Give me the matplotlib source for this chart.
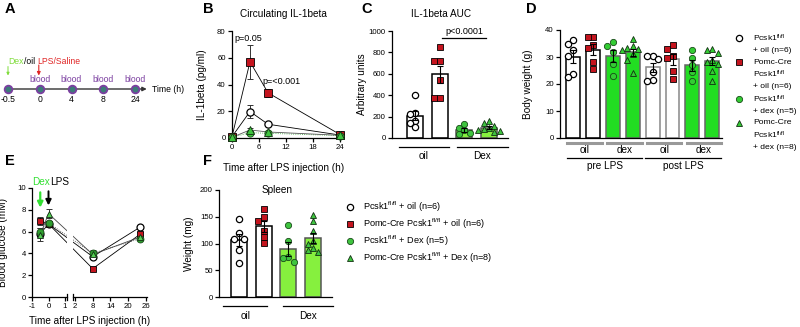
import numpy as np
import matplotlib
matplotlib.use("Agg")
import matplotlib.pyplot as plt
from matplotlib.lines import Line2D

plt.rcParams['font.family'] = ['Liberation Sans', 'DejaVu Sans']
plt.rcParams['mathtext.fontset'] = 'custom'
plt.rcParams['mathtext.rm'] = 'Liberation Sans'
plt.rcParams['mathtext.it'] = 'Liberation Sans:italic'

# --- data ---

# A: timeline
a_times = ["-0.5", "0", "4", "8", "24"]
a_blood = [False, True, True, True, True]

# B: circulating IL-1beta (pg/ml), mean and SEM
b_hours = [0, 4, 8, 24]
b_g1_mean = [1.0, 19.8, 10.3, 2.2]
b_g1_sem = [0.4, 4.5, 1.2, 0.5]
b_g2_mean = [1.0, 57.0, 33.8, 2.6]
b_g2_sem = [0.4, 12.7, 2.8, 0.6]
b_g3_mean = [0.5, 4.0, 3.5, 1.8]
b_g3_sem = [0.3, 1.0, 0.8, 0.4]
b_g4_mean = [0.5, 6.0, 4.5, 2.0]
b_g4_sem = [0.3, 1.5, 1.0, 0.4]

# C: IL-1beta AUC
c_g1 = [400, 230, 225, 160, 140, 100]
c_g2 = [855, 720, 715, 540, 370, 370]
c_g3 = [130, 90, 75, 45, 35]
c_g4 = [155, 140, 110, 95, 85, 75, 65, 55]

# D: body weight (g), pre and post LPS
d_g1_pre = [36.4, 34.8, 32.5, 30.5, 23.8, 22.6]
d_g2_pre = [37.3, 37.3, 34.5, 33.5, 28.0, 25.5]
d_g3_pre = [35.5, 34.0, 32.0, 27.5, 22.8]
d_g4_pre = [36.5, 34.0, 33.5, 33.0, 32.5, 31.0, 29.0, 24.0]
d_g1_post = [30.4, 30.2, 29.3, 24.5, 21.5, 21.1]
d_g2_post = [34.5, 33.0, 30.5, 29.5, 25.0, 22.0]
d_g3_post = [32.5, 29.5, 27.0, 24.5, 21.0]
d_g4_post = [33.0, 32.5, 31.5, 29.0, 28.0, 27.5, 25.0, 21.0]

# E: blood glucose (mM), mean and SEM
e_hours = [-0.5, 0, 8, 24]
e_g1_mean = [5.8, 6.7, 3.7, 6.4]
e_g1_sem = [0.3, 0.2, 0.2, 0.15]
e_g2_mean = [7.0, 6.7, 2.6, 5.75]
e_g2_sem = [0.35, 0.2, 0.15, 0.2]
e_g3_mean = [6.0, 6.8, 4.0, 5.35]
e_g3_sem = [0.3, 0.2, 0.3, 0.15]
e_g4_mean = [5.7, 7.65, 3.9, 5.5]
e_g4_sem = [0.6, 0.4, 0.3, 0.2]

# F: spleen weight (mg)
f_g1 = [146, 119, 109, 109, 88, 64]
f_g2 = [164, 150, 142, 123, 112, 101]
f_g3 = [134, 104, 74, 72, 66]
f_g4 = [154, 142, 124, 105, 99, 92, 87, 84]

FL = r"$^{\mathrm{fl/fl}}$"
legend_d = [["Pcsk1" + FL, "+ oil (n=6)"],
            ["Pomc-Cre", "Pcsk1" + FL, "+ oil (n=6)"],
            ["Pcsk1" + FL, "+ dex (n=5)"],
            ["Pomc-Cre", "Pcsk1" + FL, "+ dex (n=8)"]]
legend_f = ["Pcsk1" + FL + " + oil (n=6)",
            "Pomc-Cre Pcsk1" + FL + " + oil (n=6)",
            "Pcsk1" + FL + " + Dex (n=5)",
            "Pomc-Cre Pcsk1" + FL + " + Dex (n=8)"]

# --- styles ---
RED = '#C4141E'
GREEN_D = '#22DD22'
GREEN_L = '#86F03E'
GREEN_MK = '#3FC43F'
ST1 = dict(marker='o', mfc='white', mec='black', mew=0.9, ms=4.5, ls='none')
ST2 = dict(marker='s', mfc=RED, mec='black', mew=0.6, ms=4.3, ls='none')
ST3 = dict(marker='o', mfc=GREEN_MK, mec='#184a18', mew=0.6, ms=4.5, ls='none')
ST4 = dict(marker='^', mfc=GREEN_MK, mec='#123012', mew=0.6, ms=4.8, ls='none')
LAB = 7.2
TCK = 5.6
W, H = 800, 327

fig = plt.figure(figsize=(8, 3.27), dpi=100)


def px_axes(x0, y0, x1, y1):
    return fig.add_axes([x0 / W, 1 - y1 / H, (x1 - x0) / W, (y1 - y0) / H])


def style(ax):
    for s in ['top', 'right']:
        ax.spines[s].set_visible(False)
    for s in ['left', 'bottom']:
        ax.spines[s].set_linewidth(0.9)
    ax.tick_params(length=3, width=0.9, labelsize=TCK, pad=1.5)


def swarm(vals, ytol, step):
    vals = np.asarray(vals, float)
    offs = np.zeros(len(vals))
    done = []
    for i in np.argsort(-vals):
        for k in (0, -1, 1, -2, 2, -3, 3):
            o = k * step
            if all(abs(o - oo) > step * 0.9 or abs(vals[i] - vv) > ytol for oo, vv in done):
                break
        offs[i] = o
        done.append((o, vals[i]))
    return offs


def bars(ax, groups, styles, fcs, ecs, width, step, ytol):
    for i, (vals, st, fc, ec) in enumerate(zip(groups, styles, fcs, ecs)):
        vals = np.asarray(vals, float)
        m = vals.mean()
        se = vals.std(ddof=1) / np.sqrt(len(vals))
        ax.bar(i, m, width, color=fc, edgecolor=ec, lw=1.1, zorder=1)
        ax.plot(i + swarm(vals, ytol, step), vals, zorder=3, clip_on=False, **st)
        ax.errorbar(i, m, yerr=se, color='black', capsize=2.3, lw=0.8,
                    capthick=0.8, zorder=4)
    ax.set_xticks([])


def group_line(ax, x0, x1, ypx, label, lypx, color='black', lw=0.9):
    h = ax.get_position().height * H
    tr = ax.get_xaxis_transform()
    ax.plot([x0, x1], [-ypx / h] * 2, color=color, lw=lw, transform=tr, clip_on=False)
    ax.text((x0 + x1) / 2, -lypx / h, label, transform=tr, ha='center', va='center',
            fontsize=LAB)


def letter(x, y, s):
    fig.text(x / W, 1 - y / H, s, fontsize=10.5, fontweight='bold', ha='left', va='center')


# --- A ---
axA = px_axes(0, 59, 200, 119)
axA.axis('off')
u = 31.75
axA.set_xlim(-8 / u, 192 / u)
axA.set_ylim(-1, 1)
pos = np.arange(len(a_times))
axA.annotate('', xy=(4.37, 0), xytext=(0, 0),
             arrowprops=dict(arrowstyle='-|>', color='#333333', lw=1.0, mutation_scale=6,
                             shrinkA=0, shrinkB=0))
axA.plot(pos, np.zeros(len(pos)), 'o', mfc='#3d7c79', mec='#7b3fa0', mew=1.3, ms=5.5,
         clip_on=False, zorder=3)
for p, t, b in zip(pos, a_times, a_blood):
    axA.text(p, -0.36, t, ha='center', va='center', fontsize=6.2)
    if b:
        axA.text(p, 0.3, 'blood', ha='center', va='center', fontsize=6.2, color='#7b3fa0')
axA.text(4.52, 0, 'Time (h)', ha='left', va='center', fontsize=6.2)
t_dex = axA.text(0, 0.93, 'Dex', ha='left', va='center', fontsize=6.2, color='#7fdc3a')
axA.annotate('/oil', xy=(1, 0.5), xycoords=t_dex, va='center', ha='left', fontsize=6.2)
axA.text(0.93, 0.93, 'LPS/Saline', ha='left', va='center', fontsize=6.2, color='#e02424')
axA.annotate('', xy=(0, 0.45), xytext=(0, 0.75),
             arrowprops=dict(arrowstyle='-|>', color='#7fdc3a', lw=0.7, mutation_scale=4,
                             shrinkA=0, shrinkB=0))
axA.annotate('', xy=(0.97, 0.45), xytext=(0.97, 0.8),
             arrowprops=dict(arrowstyle='-|>', color='#e02424', lw=0.8, mutation_scale=5,
                             shrinkA=0, shrinkB=0))
letter(5, 9, 'A')

# --- B ---
axB = px_axes(232, 31, 342.25, 138)
style(axB)
axB.set_xlim(0, 24.5)
axB.set_ylim(0, 80)
axB.set_xticks([0, 6, 12, 18, 24])
axB.set_yticks([0, 20, 40, 60, 80])
for mean, sem, st, lc, ls in [(b_g1_mean, b_g1_sem, ST1, 'black', '-'),
                              (b_g2_mean, b_g2_sem, ST2, 'black', '-'),
                              (b_g3_mean, b_g3_sem, ST3, '#33aa33', ':'),
                              (b_g4_mean, b_g4_sem, ST4, '#555555', '-')]:
    axB.plot(b_hours, mean, color=lc, ls=ls, lw=0.6, zorder=2, clip_on=False)
    axB.errorbar(b_hours, mean, yerr=sem, fmt='none', ecolor='#333333', elinewidth=0.7,
                 capsize=2.2, capthick=0.7, zorder=2, clip_on=False)
    axB.plot(b_hours, mean, zorder=3, clip_on=False, **dict(st, ms=5.2))
axB.text(3.6, 74.5, 'p=0.05', ha='center', va='center', fontsize=6.5)
axB.text(11.0, 42, 'p=<0.001', ha='center', va='center', fontsize=6.5)
axB.text(0.47, 1.16, 'Circulating IL-1beta', transform=axB.transAxes, ha='center',
         va='center', fontsize=LAB)
axB.set_ylabel('IL-1beta (pg/ml)', fontsize=LAB)
axB.yaxis.set_label_coords(-0.225, 0.5)
axB.set_xlabel('Time after LPS injection (h)', fontsize=LAB)
axB.xaxis.set_label_coords(0.47, -0.235)
letter(203, 9, 'B')

# --- C ---
uc = 24.67
axC = px_axes(392, 31, 508, 138)
style(axC)
axC.set_xlim(-23 / uc, 93 / uc)
axC.set_ylim(0, 1000)
axC.set_yticks([0, 200, 400, 600, 800, 1000])
bars(axC, [c_g1, c_g2, c_g3, c_g4], [ST1, ST2, ST3, ST4],
     ['white', 'white', GREEN_L, GREEN_L], ['black', 'black', '#555555', '#555555'],
     0.66, 0.22, 51)
group_line(axC, -0.65, 1.38, 9, 'oil', 18)
group_line(axC, 1.7, 3.77, 9, 'Dex', 18)
axC.plot([1.09, 2.88], [935, 935], color='black', lw=0.9, clip_on=False)
axC.text(1.99, 955, 'p<0.0001', ha='center', va='bottom', fontsize=6.5)
axC.text(0.42, 1.16, 'IL-1beta AUC', transform=axC.transAxes, ha='center',
         va='center', fontsize=LAB)
axC.set_ylabel('Arbitrary units', fontsize=LAB)
axC.yaxis.set_label_coords(-0.215, 0.5)
letter(361, 9, 'C')

# --- D ---
ud = 19.9
axD = px_axes(560, 30, 722, 138)
style(axD)
axD.set_xlim(-13 / ud, 149 / ud)
axD.set_ylim(0, 40)
axD.set_yticks([0, 10, 20, 30, 40])
GD3 = dict(ST3, mfc='#33cc33')
GD4 = dict(ST4, mfc='#33cc33')
bars(axD, [d_g1_pre, d_g2_pre, d_g3_pre, d_g4_pre, d_g1_post, d_g2_post, d_g3_post, d_g4_post],
     [ST1, ST2, GD3, GD4, ST1, ST2, GD3, GD4],
     ['white', 'white', GREEN_D, GREEN_D, 'white', 'white', GREEN_D, GREEN_D],
     ['black', 'black', '#666666', '#666666', '#888888', '#888888', '#666666', '#666666'],
     0.7, 0.27, 2.0)
for x0, lab in [(0, 'oil'), (2, 'dex'), (4, 'oil'), (6, 'dex')]:
    group_line(axD, x0 - 0.28, x0 + 1.45, 4.5, lab, 12, color='#999999', lw=2.2)
group_line(axD, -0.28, 3.45, 20, 'pre LPS', 28)
group_line(axD, 3.6, 7.45, 20, 'post LPS', 28)
axD.set_ylabel('Body weight (g)', fontsize=LAB)
axD.yaxis.set_label_coords(-0.165, 0.5)
letter(526, 9, 'D')

# D legend
leg_rows_d = [38, 62, 99, 123]
for y0, st, lines in zip(leg_rows_d, [ST1, ST2, GD3, GD4], legend_d):
    fig.add_artist(Line2D([739 / W], [1 - y0 / H], transform=fig.transFigure, **st))
    for k, line in enumerate(lines):
        fig.text(753 / W, 1 - (y0 + 12.3 * k) / H, line, ha='left', va='center', fontsize=6.1)

# --- E ---
GAP = 0.606
SLOPE = 0.179


def fwd(x):
    x = np.asarray(x, float)
    return np.where(x <= 1, x, np.where(x <= 2, 1 + (x - 1) * GAP, 1 + GAP + (x - 2) * SLOPE))


def inv(y):
    y = np.asarray(y, float)
    return np.where(y <= 1, y, np.where(y <= 1 + GAP, 1 + (y - 1) / GAP,
                                        2 + (y - 1 - GAP) / SLOPE))


ue = 16.5
e_right = 26.3
e_w = (float(fwd(e_right)) + 1) * ue
axE = px_axes(32, 188, 32 + e_w, 297)
style(axE)
axE.set_xscale('function', functions=(fwd, inv))
axE.set_xlim(-1, e_right)
axE.set_ylim(0, 10)
axE.set_yticks([0, 2, 4, 6, 8, 10])
axE.set_xticks([-1, 0, 1, 2, 8, 14, 20, 26])
axE.set_xticklabels(['-1', '0', '1', '2', '8', '14', '20', '26'])
axE.minorticks_off()
axE.spines['bottom'].set_visible(False)
tr = axE.get_xaxis_transform()
axE.plot([-1, 1.2], [0, 0], color='black', lw=0.9, transform=tr, clip_on=False)
axE.plot([1.8, e_right], [0, 0], color='black', lw=0.9, transform=tr, clip_on=False)
for xb in (1.2, 1.8):
    axE.plot([xb, xb], [-0.03, 0.03], color='black', lw=0.9, transform=tr, clip_on=False)
for mean, sem, st, lc, ls in [(e_g1_mean, e_g1_sem, ST1, 'black', '-'),
                              (e_g2_mean, e_g2_sem, ST2, 'black', '-'),
                              (e_g3_mean, e_g3_sem, dict(ST3, mfc='#2f9e2f'), '#444444', ':'),
                              (e_g4_mean, e_g4_sem, dict(ST4, mfc='#55d055'), '#444444', '-')]:
    axE.plot(e_hours, mean, color=lc, ls=ls, lw=0.6, zorder=1)
    axE.errorbar(e_hours, mean, yerr=sem, fmt='none', ecolor='#333333', elinewidth=0.7,
                 capsize=2.0, capthick=0.7, zorder=2)
    axE.plot(e_hours, mean, zorder=3, clip_on=False, **dict(st, ms=5.0))
axE.axvspan(1.2, 1.8, ymin=0.01, color='white', zorder=1.5, lw=0)
t_d = axE.text(-1, 10.55, 'Dex', ha='left', va='center', fontsize=LAB, color='#33e033')
axE.annotate('LPS', xy=(1, 0.5), xycoords=t_d, ha='left', va='center', fontsize=LAB)
axE.annotate('', xy=(-0.5, 8.2), xytext=(-0.5, 9.6),
             arrowprops=dict(arrowstyle='-|>', color='#33e033', lw=1.6, mutation_scale=8,
                             shrinkA=0, shrinkB=0), annotation_clip=False)
axE.annotate('', xy=(0, 8.4), xytext=(0, 9.7),
             arrowprops=dict(arrowstyle='-|>', color='black', lw=1.4, mutation_scale=8,
                             shrinkA=0, shrinkB=0), annotation_clip=False)
axE.set_ylabel('Blood glucose (mM)', fontsize=LAB)
axE.yaxis.set_label_coords(-0.205, 0.5)
axE.set_xlabel('Time after LPS injection (h)', fontsize=LAB)
axE.xaxis.set_label_coords(0.5, -0.17)
letter(5, 161, 'E')

# --- F ---
uf = 24.67
axF = px_axes(219, 190, 332, 297)
style(axF)
axF.set_xlim(-20 / uf, 93 / uf)
axF.set_ylim(0, 200)
axF.set_yticks([0, 50, 100, 150, 200])
bars(axF, [f_g1, f_g2, f_g3, f_g4], [ST1, ST2, ST3, ST4],
     ['white', 'white', GREEN_L, GREEN_L], ['black', 'black', '#555555', '#555555'],
     0.64, 0.22, 10)
group_line(axF, -0.65, 1.15, 9, 'oil', 19)
group_line(axF, 1.78, 3.8, 9, 'Dex', 19)
axF.text(0.51, 1.0, 'Spleen', transform=axF.transAxes, ha='center', va='center',
         fontsize=LAB)
axF.set_ylabel('Weight (mg)', fontsize=LAB)
axF.yaxis.set_label_coords(-0.22, 0.5)
letter(203, 161, 'F')

# F legend
for y0, st, lab in zip([207, 223.5, 241, 258], [ST1, ST2, ST3, ST4], legend_f):
    fig.add_artist(Line2D([350 / W], [1 - y0 / H], transform=fig.transFigure, **st))
    fig.text(363 / W, 1 - y0 / H, lab, ha='left', va='center', fontsize=6.6)

fig.savefig('out.png', dpi=100)
